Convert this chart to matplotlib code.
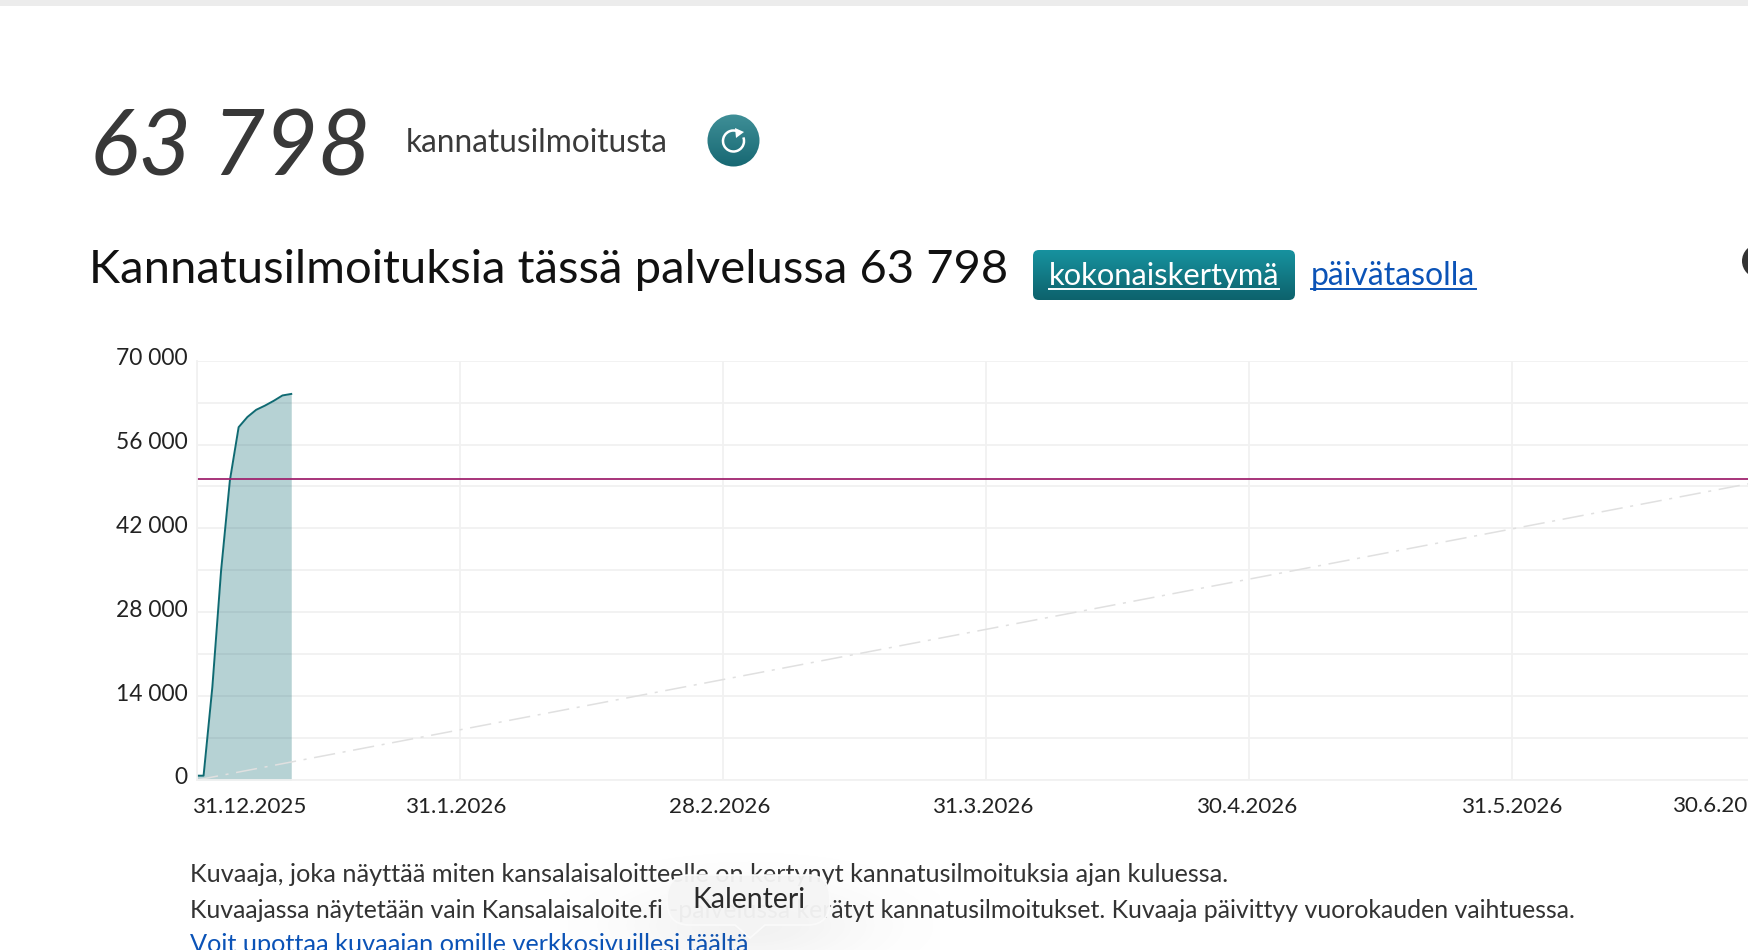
import numpy as np
import matplotlib
matplotlib.use("Agg")
import matplotlib.pyplot as plt
import matplotlib.patches as patches
from matplotlib.path import Path
from matplotlib.transforms import ScaledTranslation

W, H = 1748, 950
FONT = "Lato"

# days counted from the start of the x axis, a grid line every 30 days
tick_days = [0, 30, 60, 90, 120, 150]
tick_labels = ["31.12.2025", "31.1.2026", "28.2.2026", "31.3.2026", "30.4.2026", "31.5.2026"]
last_tick_day = 180
last_tick_label = "30.6.2026"
y_major = [0, 14000, 28000, 42000, 56000, 70000]
y_labels = ["0", "14 000", "28 000", "42 000", "56 000", "70 000"]
y_minor = [7000, 21000, 35000, 49000, 63000]

support_days = [0, 0.75, 1.75, 2.75, 3.75, 4.75, 5.75, 6.75, 7.75, 8.75, 9.75, 10.75]
support_counts = [720, 720, 15500, 35000, 50000, 58900, 60600, 61800, 62500, 63300, 64200, 64450]

target_count = 50300
pace_days = [0, 180]
pace_counts = [0, 50300]

total_text = "63 798"

plt.rcParams["font.family"] = [FONT, "DejaVu Sans"]
fig = plt.figure(figsize=(W / 100, H / 100), dpi=100, facecolor="white")

# chart axes, runs off the right edge of the page
left, right, top, bottom = 197, W, 360.7, 780
ax = fig.add_axes([left / W, 1 - bottom / H, (right - left) / W, (bottom - top) / H])

ax.set_xticks(tick_days, tick_labels)
ax.set_yticks(y_major, y_labels)
ax.set_yticks(y_minor, minor=True)
ax.set_xlim(0, (right - left) / 8.767)
ax.set_ylim(0, 70000)
ax.grid(True, which="both", color="#f1f1f1", linewidth=1.3)
ax.set_axisbelow(True)
ax.tick_params(which="both", length=0)
ax.tick_params(axis="y", labelsize=16.4, labelcolor="#222222", pad=7)
ax.tick_params(axis="x", labelsize=16.1, labelcolor="#222222", pad=12)
for side in ["top", "right"]:
    ax.spines[side].set_visible(False)
for side in ["left", "bottom"]:
    ax.spines[side].set_color("#f1f1f1")
    ax.spines[side].set_linewidth(1.3)

# x labels sit left of their grid line, the first one starts at the axis
label_shift = [-4, -54, -54, -53, -52, -50.5]
for label, dx in zip(ax.get_xticklabels(), label_shift):
    label.set_ha("left")
    label.set_transform(label.get_transform() + ScaledTranslation(dx / 100, 0, fig.dpi_scale_trans))
for label in ax.get_yticklabels():
    label.set_transform(label.get_transform() + ScaledTranslation(0, 4 / 100, fig.dpi_scale_trans))

# the last tick lies past the right edge, so its label is placed by hand
ax.annotate(last_tick_label, (last_tick_day, 0), xytext=(-102, -16), textcoords="offset pixels",
            ha="left", va="top", fontsize=16.1, color="#222222", annotation_clip=False)

ax.plot(pace_days, pace_counts, color="#e0e0e0", linewidth=1.1, linestyle=(0, (14, 5, 2, 5)))
ax.fill_between(support_days, support_counts, color="#0f6a72", alpha=0.3, linewidth=0)
ax.plot(support_days, support_counts, color="#0f6a72", linewidth=1.4)
ax.axhline(target_count, color="#a0246f", linewidth=1.3)

# page furniture lives on a pixel-sized overlay
page = fig.add_axes([0, 0, 1, 1], zorder=5)
page.set_xlim(0, W)
page.set_ylim(H, 0)
page.axis("off")


def gradient_box(x0, y0, x1, y1, col_top, col_bottom, clip=None):
    c0 = np.array(matplotlib.colors.to_rgb(col_top))
    c1 = np.array(matplotlib.colors.to_rgb(col_bottom))
    t = np.linspace(0, 1, 64)[:, None, None]
    img = c0 * (1 - t) + c1 * t
    im = page.imshow(img, extent=(x0, x1, y1, y0), aspect="auto", zorder=2)
    if clip is not None:
        im.set_clip_path(clip)


page.add_patch(patches.Rectangle((0, 0), W, 6, color="#ececec", linewidth=0))

page.text(90, 175, total_text, fontsize=65.5, style="italic", color="#383838")
page.text(406, 152, "kannatusilmoitusta", fontsize=22.8, color="#3a3a3a")

# refresh button
disc = patches.Circle((733.5, 140.5), 26, transform=page.transData, facecolor="none", linewidth=0)
page.add_patch(disc)
gradient_box(707, 114, 760, 167, "#3f8f97", "#176873", clip=disc)
page.add_patch(patches.Arc((733.5, 141), 21, 21, theta1=-20, theta2=290, color="white", linewidth=1.8, zorder=3))
page.add_patch(patches.Polygon([[735, 128], [744, 132], [736, 138]], color="white", linewidth=0, zorder=3))

page.text(89, 283, "Kannatusilmoituksia tässä palvelussa 63 798", fontsize=33.9, color="#111111")

# toggle between cumulative and daily view
btn = patches.FancyBboxPatch((1033, 250), 262, 50, boxstyle="round,pad=0,rounding_size=6", facecolor="none", linewidth=0)
page.add_patch(btn)
gradient_box(1033, 250, 1295, 300, "#17929f", "#0d626c", clip=btn)
page.text(1049, 285, "kokonaiskertymä", fontsize=22.2, color="white", zorder=3)
page.plot([1049, 1279], [289, 289], color="white", linewidth=1.4, zorder=3)
page.text(1311, 285, "päivätasolla", fontsize=23, color="#0b53b7")
page.plot([1311, 1476], [289, 289], color="#0b53b7", linewidth=1.4)

page.add_patch(patches.Circle((1759, 261), 17, color="#333333", linewidth=0))

page.text(189.5, 882, "Kuvaaja, joka näyttää miten kansalaisaloitteelle on kertynyt kannatusilmoituksia ajan kuluessa.",
          fontsize=18.2, color="#333333")
page.text(189.5, 918, "Kuvaajassa näytetään vain Kansalaisaloite.fi -palvelussa kerätyt kannatusilmoitukset. Kuvaaja päivittyy vuorokauden vaihtuessa.",
          fontsize=17.96, color="#333333")
page.text(189.5, 952, "Voit upottaa kuvaajan omille verkkosivuillesi täältä", fontsize=18.2, color="#0b53b7", clip_on=False)
page.plot([189.5, 748], [951, 951], color="#0b53b7", linewidth=1)

# soft shadow under the floating tooltip
yy, xx = np.mgrid[840:950, 560:940]
shade = np.exp(-(((xx - 750) / 120.0) ** 2 + ((yy - 925) / 42.0) ** 2))
rgba = np.zeros(shade.shape + (4,))
rgba[..., :3] = 0.35
rgba[..., 3] = 0.08 * shade
page.imshow(rgba, extent=(560, 940, 950, 840), aspect="auto", zorder=6)

verts = [(689, 875), (808, 875), (830, 875), (830, 900), (830, 925), (808, 925),
         (765, 925), (750, 938), (735, 925), (689, 925), (667, 925), (667, 900), (667, 875), (689, 875), (689, 875)]
codes = [Path.MOVETO, Path.LINETO, Path.CURVE3, Path.CURVE3, Path.CURVE3, Path.CURVE3,
         Path.LINETO, Path.LINETO, Path.LINETO, Path.LINETO, Path.CURVE3, Path.CURVE3, Path.CURVE3, Path.CURVE3, Path.CLOSEPOLY]
page.add_patch(patches.PathPatch(Path(verts, codes), facecolor="#f5f5f5", edgecolor="#fbfbfb", alpha=0.96, linewidth=1.2, zorder=7))
page.text(749, 900, "Kalenteri", fontsize=20.4, color="#2a2a2a", ha="center", va="center", zorder=8)

page.set_xlim(0, W)
page.set_ylim(H, 0)
fig.savefig("out.png", dpi=100)
